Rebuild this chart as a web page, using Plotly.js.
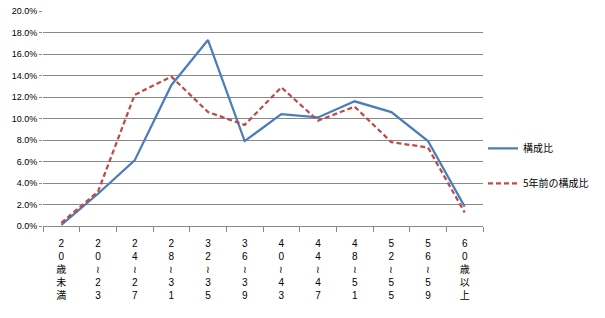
<!DOCTYPE html>
<html>
<head>
<meta charset="utf-8">
<script src="https://cdn.plot.ly/plotly-3.0.1.min.js"></script>
<style>html,body{margin:0;padding:0;background:#fff;}#chart{width:605px;height:318px;}</style>
</head>
<body>
<div id="chart"></div>
<script>
const categories = ["20歳未満","20～23","24～27","28～31","32～35","36～39","40～43","44～47","48～51","52～55","56～59","60歳以上"];
const seriesNames = ["構成比","5年前の構成比"];
const current = [0.001, 0.030, 0.061, 0.131, 0.173, 0.079, 0.104, 0.101, 0.116, 0.106, 0.079, 0.018];
const previous = [0.003, 0.032, 0.122, 0.139, 0.106, 0.094, 0.129, 0.098, 0.111, 0.078, 0.073, 0.0125];

function verticalLabel(s){
  return Array.from(s).map(c => c === "～" ? "≀" : c).join("<br>");
}
const tickText = categories.map(verticalLabel);

const font = "Liberation Sans, Noto Sans CJK JP, sans-serif";

const traces = [
  {x: categories, y: current, name: seriesNames[0], type: "scatter", mode: "lines",
   line: {color: "#4A7EBB", width: 2.25}, legendgroup: "a"},
  {x: categories, y: previous, name: seriesNames[1], type: "scatter", mode: "lines",
   line: {color: "#BE4B48", width: 2.25, dash: "5px,3px"}, legendgroup: "b"}
];

const layout = {
  width: 605, height: 318,
  margin: {l: 43, r: 119, t: 11, b: 92},
  paper_bgcolor: "#fff", plot_bgcolor: "#fff",
  font: {family: font, size: 9, color: "#000"},
  showlegend: true,
  legend: {x: 1.0, y: 0.28, xanchor: "left", yanchor: "middle",
           font: {family: "Noto Sans CJK JP, sans-serif", size: 10, color: "#000"},
           tracegroupgap: 16, traceorder: "grouped", itemwidth: 30},
  xaxis: {
    type: "category", tickvals: categories, ticktext: tickText,
    tickson: "boundaries", ticks: "outside", ticklen: 5, tickcolor: "#888",
    showline: true, linecolor: "#888", linewidth: 1,
    showgrid: false, zeroline: false, tickangle: 0,
    ticklabelstandoff: 8,
    tickfont: {family: font, size: 10, color: "#000"},
    range: [-0.5, 11.5]
  },
  yaxis: {
    range: [0, 0.2], dtick: 0.02, tickformat: ".1%",
    showgrid: true, gridcolor: "#888", gridwidth: 1,
    ticks: "outside", ticklen: 3, tickcolor: "#888",
    showline: false, zeroline: false,
    tickfont: {family: font, size: 9, color: "#000"}
  }
};

Plotly.newPlot("chart", traces, layout, {displayModeBar: false, staticPlot: true});
</script>
</body>
</html>
